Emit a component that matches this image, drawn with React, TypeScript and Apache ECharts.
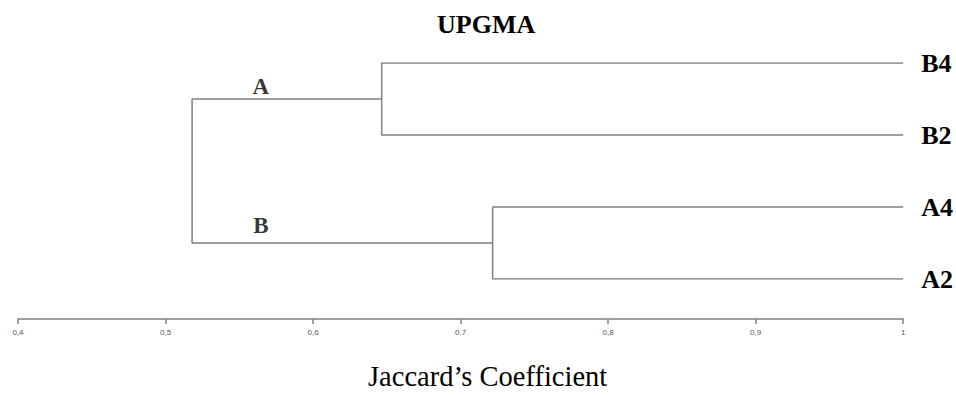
import React, { useEffect, useRef } from "react";
import * as echarts from "echarts";

// ---- data ----
const leafNames = ["B4", "B2", "A4", "A2"];
const leafSimilarity = 1.0;
const clusterNames = ["A", "B"];
const clusterMembers = [
  [0, 1],
  [2, 3],
];
const clusterHeights = [0.6465, 0.7217];
const rootHeight = 0.518;
const clusterLabelX = 0.5646;
const axisMin = 0.4;
const axisMax = 1.0;
const axisStep = 0.1;

const LINE = "#808080";

export default function App() {
  const ref = useRef<HTMLDivElement>(null);
  useEffect(() => {
    if (!ref.current) return;
    const chart = echarts.init(ref.current, undefined, { renderer: "svg" });

    const series: any[] = [];
    const mids: number[] = [];
    clusterMembers.forEach((m, i) => {
      const h = clusterHeights[i];
      const mid = (m[0] + m[1]) / 2;
      mids.push(mid);
      series.push({
        type: "line",
        data: [
          [leafSimilarity, m[0]],
          [h, m[0]],
          [h, m[1]],
          [leafSimilarity, m[1]],
        ],
        showSymbol: false,
        lineStyle: { color: LINE, width: 1.5 },
        silent: true,
      });
    });
    series.push({
      type: "line",
      data: [
        [clusterHeights[0], mids[0]],
        [rootHeight, mids[0]],
        [rootHeight, mids[1]],
        [clusterHeights[1], mids[1]],
      ],
      showSymbol: false,
      lineStyle: { color: LINE, width: 1.5 },
      silent: true,
    });
    series.push({
      type: "scatter",
      symbolSize: 0,
      silent: true,
      data: clusterNames.map((n, i) => ({
        value: [clusterLabelX, mids[i]],
        name: n,
        label: {
          show: true,
          position: "top",
          distance: i === 0 ? 1 : 6,
          formatter: n,
          fontFamily: "Liberation Serif",
          fontWeight: "bold",
          fontSize: 23,
          color: "#000",
        },
      })),
    });

    chart.setOption({
      animation: false,
      title: {
        text: "UPGMA",
        left: 437,
        top: 11,
        padding: 0,
        textStyle: {
          fontFamily: "Liberation Serif",
          fontWeight: "bold",
          fontSize: 26,
          color: "#000",
        },
      },
      grid: { left: 18, right: 52, top: 63, bottom: 104 },
      xAxis: {
        type: "value",
        position: "bottom",
        min: axisMin,
        max: axisMax,
        interval: axisStep,
        offset: 40,
        axisLine: { show: true, onZero: false, lineStyle: { color: LINE, width: 1.5 } },
        axisTick: { show: true, length: 5, lineStyle: { color: LINE, width: 1.5 } },
        splitLine: { show: false },
        axisLabel: {
          fontFamily: "Liberation Sans",
          fontSize: 8,
          color: "#555",
          margin: 9,
          formatter: (v: number) => String(+v.toFixed(1)).replace(".", ","),
        },
        name: "Jaccard\u2019s Coefficient",
        nameLocation: "middle",
        nameGap: 43,
        nameTextStyle: {
          fontFamily: "Liberation Serif",
          fontSize: 28.5,
          color: "#000",
          padding: [0, 0, 0, 54],
        },
      },
      yAxis: {
        type: "value",
        position: "right",
        inverse: true,
        min: 0,
        max: leafNames.length - 1,
        interval: 1,
        axisLine: { show: false },
        axisTick: { show: false },
        splitLine: { show: false },
        axisLabel: {
          margin: 18,
          fontFamily: "Liberation Serif",
          fontWeight: "bold",
          fontSize: 26,
          color: "#000",
          formatter: (v: number) => leafNames[Math.round(v)] ?? "",
        },
      },
      series,
    });
    return () => chart.dispose();
  }, []);
  return (
    <div
      ref={ref}
      style={{ position: "fixed", left: 0, top: 0, width: 956, height: 396, background: "#fff" }}
    />
  );
}
